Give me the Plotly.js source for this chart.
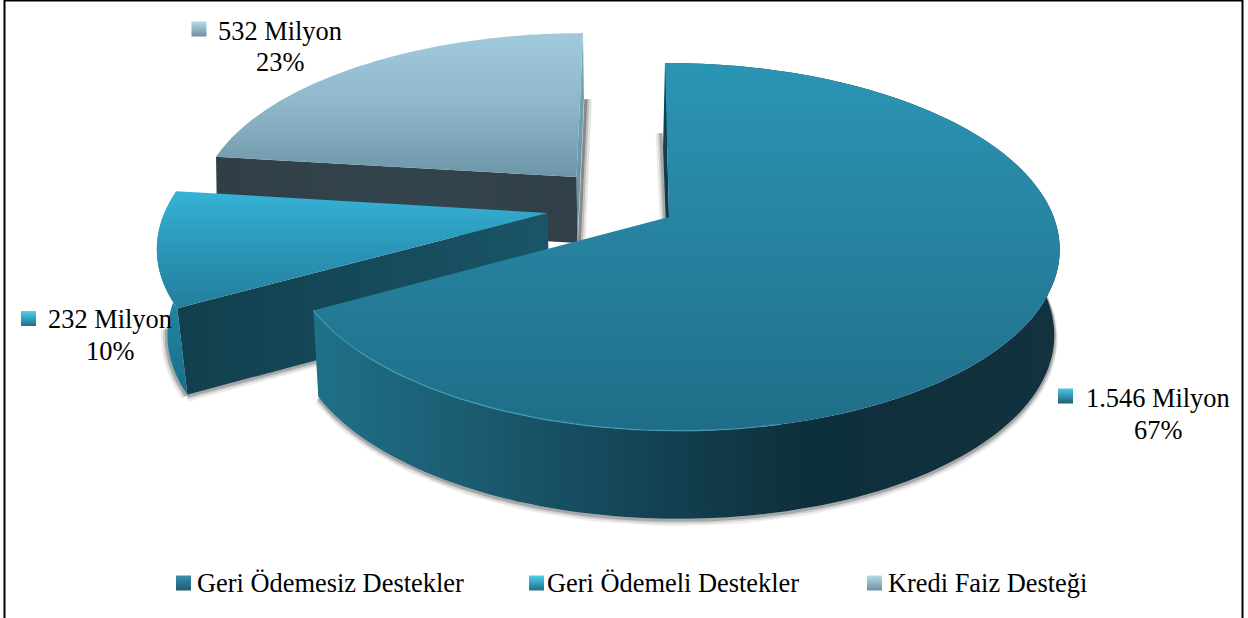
<!DOCTYPE html>
<html><head><meta charset="utf-8">
<script src="https://cdn.plot.ly/plotly-3.0.1.min.js"></script>
<style>html,body{margin:0;padding:0;background:#fff}#c{width:1248px;height:618px}</style>
</head><body><div id="c"></div>
<script>
const categories = ["Geri Ödemesiz Destekler", "Geri Ödemeli Destekler", "Kredi Faiz Desteği"];
const values = [1546, 232, 532];
const amountLabels = ["1.546 Milyon", "232 Milyon", "532 Milyon"];
const percentLabels = ["67%", "10%", "23%"];

const total = values.reduce((a, b) => a + b, 0);
const F = "Liberation Serif, Times New Roman, serif";
const FS = 26.4;
// view model of the tilted, exploded disc
const A = 389, B = 179, K = 0.163;
const geom = [
  {ax: 669,   ay: 217, sx: 0.979,sy: 1,     sh: -0.026, m: 0.01,  d: 85, bs: 0.986},
  {ax: 547.5, ay: 213, sx: 0.975,sy: 1,     sh: 0.07,   m: -0.01, d: 85, bs: 0.973},
  {ax: 576.5, ay: 177, sx: 0.955,sy: 0.935, sh: 0.045,  m: 0,     d: 66, bs: 0.99}
];
function rad(i) { // slice start and end angle, clockwise from 12 o'clock
  let s = 0; for (let j = 0; j < i; j++) s += values[j] / total;
  return [s * 2 * Math.PI, (s + values[i] / total) * 2 * Math.PI];
}
function topP(g, t) {
  const u = Math.sin(t), v = Math.cos(t), w = 1 + K * v - g.m * u;
  const y = g.ay - B * g.sy * v / w;
  return [g.ax + A * g.sx * u / w + g.sh * (g.ay - y), y];
}
function botP(g, t) {
  const [x, y] = topP(g, t);
  return [g.ax + (x - g.ax) * g.bs, y + g.d + (y > g.ay ? (y - g.ay) * 0.014 : 0)];
}
function arc(fn, g, a, b, n) {
  const p = [];
  for (let i = 0; i <= n; i++) p.push(fn(g, a + (b - a) * i / n));
  return p;
}
const traces = [];
function poly(pts, grad) {
  const x = pts.map(p => p[0]), y = pts.map(p => p[1]);
  x.push(x[0]); y.push(y[0]);
  traces.push({type: "scatter", mode: "none", x, y, fill: "toself", hoverinfo: "skip", showlegend: false,
    fillgradient: {type: grad.type, colorscale: grad.stops.map((c, i) => [i / (grad.stops.length - 1), c]),
      start: grad.from, stop: grad.to}});
}
function stroke(pts, color, width) {
  traces.push({type: "scatter", mode: "lines", x: pts.map(p => p[0]), y: pts.map(p => p[1]),
    line: {color, width, shape: "linear"}, hoverinfo: "skip", showlegend: false});
}
const off = (pts, dx, dy) => pts.map(p => [p[0] + dx, p[1] + dy]);
function softShadow(pts, dx, dy, k) { // layered translucent strokes behind an edge
  const s = k || 1;
  stroke(off(pts, dx * 2.4, dy * 2.4), "rgba(70,70,70," + 0.10 * s + ")", 7);
  stroke(off(pts, dx * 1.6, dy * 1.6), "rgba(70,70,70," + 0.16 * s + ")", 5);
  stroke(off(pts, dx, dy), "rgba(70,70,70," + 0.30 * s + ")", 3);
}

// --- slice 3 (back)
{
  const g = geom[2], [a, b] = rad(2);
  const ap = [g.ax, g.ay], apB = [g.ax + 1, g.ay + g.d], eT = topP(g, b), eB = [eT[0] + 1, eT[1] + g.d];
  softShadow([eB, apB], 1.8, 0, 1.5);
  poly([ap, eT, eB, apB], {type: "vertical", stops: ["#7fabbf", "#5f8c9f"], from: 33, to: 243});
  const sT = topP(g, a), sB = [sT[0] + 1, sT[1] + g.d];
  poly([sT, ap, apB, sB], {type: "horizontal", stops: ["#2f3e47", "#34444d", "#303f48"], from: 217, to: 577});
  poly([ap, ...arc(topP, g, a, b, 60)], {type: "vertical", stops: ["#a1cadc", "#8fb7ca", "#6c95a7"], from: 32, to: 178});
}
// --- slice 2 (left)
{
  const g = geom[1], [a, b] = rad(1);
  const ap = [g.ax, g.ay], apB = [g.ax + 2, g.ay + g.d], sT = topP(g, a), sB = botP(g, a);
  softShadow(arc(botP, g, a, a + 0.35, 20), -1.2, 1);
  softShadow([sB, apB], 0, 1.4);
  poly([...arc(topP, g, a, b, 30), ...arc(botP, g, b, a, 30)],
       {type: "vertical", stops: ["#2a9cbd", "#1f83a1", "#1a6f8a"], from: 240, to: 390});
  poly([sT, ap, apB, sB], {type: "horizontal", stops: ["#123f4e", "#154a5a", "#1a5567"], from: 180, to: 549});
  poly([ap, ...arc(topP, g, a, b, 30)], {type: "vertical", stops: ["#36b2d6", "#2b96b7", "#247f9d"], from: 192, to: 306});
}
// --- slice 1 (front)
{
  const g = geom[0], [a, b] = rad(0);
  const ap = [g.ax, g.ay], apB = [g.ax, g.ay + g.d], sT = topP(g, a);
  softShadow(arc(botP, g, 0.35, b, 120), 0, 1.5);
  softShadow([[sT[0] - 3, sT[1] + 70], [g.ax - 3, g.ay + 2]], -1.2, 0);
  poly([sT, ap, apB, [sT[0] - 2, sT[1] + g.d]], {type: "vertical", stops: ["#0f4a5c", "#0a3a49"], from: 62, to: 218});
  poly([...arc(topP, g, a, b, 150), ...arc(botP, g, b, a, 150)],
       {type: "horizontal", stops: ["#1f7188", "#1c6076", "#174f62", "#123e4e", "#0d2f3b", "#10303c", "#11323e"], from: 312, to: 1059});
  poly([ap, ...arc(topP, g, a, b, 150)], {type: "vertical", stops: ["#2b95b4", "#26829f", "#1f6d88"], from: 62, to: 431});
  stroke(arc(topP, g, b - 1.3, b, 60), "rgba(70,170,195,0.6)", 1.4);
}

// key squares beside the value labels and in the legend row
const keyX = [1065.5, 28.5, 199];
const keyY = [396, 318.5, 29];
const legendKeyX = [183.5, 536.5, 874.5];
const legendKeyY = [583, 583, 583];
const keyTop = ["#4cc8e8", "#4fd0ee", "#b6dce8"];
const keyBot = ["#1f5f76", "#1f6f8a", "#6f8f9f"];
const legendKeyTop = ["#3a90ae", "#4fd0ee", "#b6dce8"];
const legendKeyBot = ["#1c5a70", "#1f6f8a", "#6f8f9f"];
const legendNames = ["legend", "legend2", "legend3"];
categories.forEach((name, i) => {
  traces.push({type: "scatter", mode: "markers", x: [keyX[i], legendKeyX[i]], y: [keyY[i], legendKeyY[i]],
    hoverinfo: "skip", showlegend: false,
    marker: {symbol: "square", size: 15, color: [keyTop[i], legendKeyTop[i]],
      gradient: {type: "vertical", color: [keyBot[i], legendKeyBot[i]]}, line: {width: 0}}});
  traces.push({type: "scatter", mode: "markers", name, x: [null], y: [null], hoverinfo: "skip",
    legend: legendNames[i], showlegend: true,
    marker: {symbol: "square", size: 15, color: "rgba(0,0,0,0)", line: {width: 0}}});
});

const labelX = [1158, 110, 280];
const amountY = [398, 319, 31];
const percentY = [430, 351, 62];
const annotations = [];
categories.forEach((_, i) => {
  [[amountLabels[i], amountY[i]], [percentLabels[i], percentY[i]]].forEach(([text, y]) => annotations.push({
    xref: "x", yref: "y", x: labelX[i], y, showarrow: false, align: "center",
    text, font: {family: F, size: FS, color: "#000"}, xanchor: "center", yanchor: "middle"}));
});

const legendX = [157, 507, 848];
const legendBase = {orientation: "h", xanchor: "left", yanchor: "middle", y: 1 - 582 / 618,
  bgcolor: "rgba(0,0,0,0)", borderwidth: 0, font: {family: F, size: FS, color: "#000"},
  itemclick: false, itemdoubleclick: false};

const layout = {
  width: 1248, height: 618, margin: {l: 0, r: 0, t: 0, b: 0},
  paper_bgcolor: "#fff", plot_bgcolor: "#fff", showlegend: true,
  xaxis: {range: [0, 1248], visible: false, fixedrange: true},
  yaxis: {range: [618, 0], visible: false, fixedrange: true},
  annotations,
  shapes: [{type: "rect", xref: "x", yref: "y", x0: 4.5, x1: 1242.5, y0: 0.5, y1: 640, line: {color: "#000", width: 2}, layer: "above"}],
  legend: {...legendBase, x: legendX[0] / 1248},
  legend2: {...legendBase, x: legendX[1] / 1248},
  legend3: {...legendBase, x: legendX[2] / 1248}
};
Plotly.newPlot("c", traces, layout, {displayModeBar: false});
</script></body></html>
